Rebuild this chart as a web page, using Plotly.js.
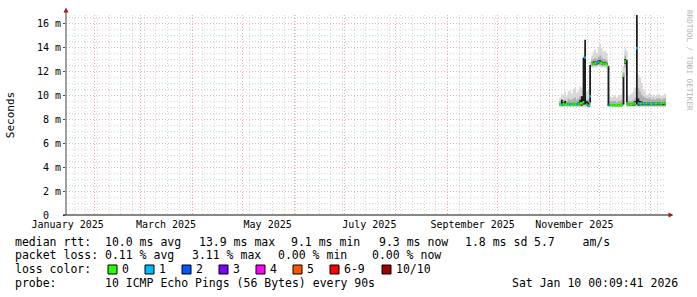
<!DOCTYPE html>
<html><head><meta charset="utf-8">
<script src="https://cdn.plot.ly/plotly-3.0.1.min.js"></script>
<style>html,body{margin:0;padding:0;background:#fff;}#chart{width:697px;height:297px;}</style>
</head><body><div id="chart"></div>
<script>
// ---- data (milliseconds) ----
const days = ['2025-11-07','2025-11-08','2025-11-09','2025-11-10','2025-11-11','2025-11-12','2025-11-13','2025-11-14','2025-11-15','2025-11-16',
'2025-11-17','2025-11-18','2025-11-19','2025-11-20','2025-11-21','2025-11-22','2025-11-23','2025-11-24','2025-11-25','2025-11-26',
'2025-11-27','2025-11-28','2025-11-29','2025-11-30','2025-12-01','2025-12-02','2025-12-03','2025-12-04','2025-12-05','2025-12-06',
'2025-12-07','2025-12-08','2025-12-09','2025-12-10','2025-12-11','2025-12-12','2025-12-13','2025-12-14','2025-12-15','2025-12-16',
'2025-12-17','2025-12-18','2025-12-19','2025-12-20','2025-12-21','2025-12-22','2025-12-23','2025-12-24','2025-12-25','2025-12-26',
'2025-12-27','2025-12-28','2025-12-29','2025-12-30','2025-12-31','2026-01-01','2026-01-02','2026-01-03','2026-01-04','2026-01-05',
'2026-01-06','2026-01-07','2026-01-08','2026-01-09','2026-01-10 00:09:41'];
const median = [9.2,9.2,9.25,9.2,9.2,9.25,9.2,9.2,9.25,9.2,
9.2,9.25,9.3,9.3,9.4,13.1,9.2,9.1,9.9,12.6,
12.6,12.65,12.7,12.75,12.7,12.65,12.6,12.6,12.55,9.2,
9.15,9.15,9.15,9.15,9.15,9.15,9.15,9.2,11.6,12.8,
9.3,9.2,9.2,9.2,9.25,9.3,13.9,9.3,9.3,9.3,
9.3,9.3,9.3,9.3,9.3,9.25,9.3,9.3,9.3,9.3,
9.3,9.3,9.35,9.3,9.3];
const smokeLo = [9.0,9.0,9.0,9.0,9.0,9.0,9.0,9.0,9.0,9.0,
9.0,9.0,9.0,9.0,9.0,9.0,9.0,8.9,9.0,12.3,
12.3,12.3,12.3,12.4,12.3,12.3,12.3,12.3,12.2,9.0,
9.0,9.0,9.0,9.0,9.0,9.0,9.0,9.0,9.0,11.6,
9.0,9.0,9.0,9.0,9.0,9.0,9.0,9.0,9.0,9.0,
9.0,9.0,9.0,9.0,9.0,9.0,9.0,9.0,9.0,9.0,
9.0,9.0,9.0,9.0,9.0];
const smokeHi = [9.8,10.1,10.0,10.3,9.9,10.3,10.4,10.1,10.5,10.6,
10.2,10.4,10.7,10.6,13.3,14.6,10.3,10.4,12.8,13.3,
13.6,13.8,13.5,14.0,14.3,13.9,13.6,13.7,13.5,12.5,
9.9,9.8,9.9,10.0,9.8,9.9,10.0,10.1,12.4,13.9,
13.7,10.0,9.9,10.1,10.3,10.6,16.7,11.7,11.5,11.0,
10.5,10.3,10.0,10.1,10.2,9.9,10.0,9.9,10.0,10.1,
10.0,9.9,10.0,10.1,10.1];
const coreLo = [9.1,9.1,9.1,9.1,9.1,9.1,9.1,9.1,9.1,9.1,
9.1,9.1,9.1,9.1,9.1,9.2,9.1,9.0,9.2,12.4,
12.4,12.45,12.45,12.5,12.5,12.45,12.45,12.4,12.4,9.1,
9.05,9.05,9.05,9.05,9.05,9.05,9.05,9.05,9.2,12.3,
9.2,9.1,9.1,9.1,9.1,9.1,9.2,9.1,9.1,9.1,
9.1,9.1,9.1,9.1,9.1,9.1,9.1,9.1,9.1,9.1,
9.1,9.1,9.1,9.1,9.1];
const coreHi = [9.5,9.6,9.6,9.6,9.5,9.7,9.6,9.6,9.7,9.8,
9.6,9.7,9.9,9.9,10.4,13.9,9.6,9.6,12.5,12.9,
13.0,13.1,13.0,13.2,13.3,13.1,13.0,13.0,12.9,12.3,
9.5,9.45,9.5,9.5,9.4,9.5,9.5,9.6,11.9,13.3,
13.0,9.5,9.5,9.5,9.6,9.8,16.2,10.6,10.3,10.0,
9.9,9.8,9.7,9.7,9.8,9.6,9.7,9.6,9.7,9.7,
9.7,9.6,9.7,9.7,9.7];
const denseLo = [9.15,9.1,9.15,9.15,9.15,9.15,9.15,9.15,9.15,9.15,
9.15,9.15,9.15,9.1,9.2,9.2,9.1,9.0,9.4,12.5,
12.5,12.55,12.55,12.6,12.6,12.55,12.5,12.5,12.5,9.1,
9.1,9.1,9.1,9.1,9.1,9.1,9.1,9.1,9.2,12.6,
9.2,9.1,9.1,9.1,9.1,9.15,9.2,9.1,9.15,9.15,
9.15,9.15,9.15,9.15,9.15,9.15,9.15,9.15,9.15,9.15,
9.15,9.15,9.15,9.15,9.15];
const denseHi = [9.3,9.6,9.4,9.5,9.3,9.35,9.3,9.3,9.35,9.3,
9.3,9.4,9.6,9.9,13.1,14.6,9.5,9.4,12.5,12.7,
12.8,12.8,12.8,12.9,12.9,12.8,12.75,12.75,12.7,12.4,
9.25,9.25,9.25,9.25,9.25,9.25,9.25,9.3,11.6,13.0,
12.9,9.3,9.3,9.3,9.35,9.5,16.7,9.7,9.5,9.45,
9.4,9.4,9.4,9.4,9.4,9.35,9.4,9.4,9.4,9.4,
9.4,9.4,9.4,9.4,9.4];
const lossClass = [0,1,0,0,0,0,1,0,0,0,
1,0,0,0,0,1,0,1,1,0,
0,0,1,1,0,0,0,0,0,2,
0,0,0,0,0,0,0,0,0,0,
0,0,0,0,0,0,1,1,0,1,
0,1,0,1,0,0,1,0,0,1,
0,0,0,0,0];

const monthStarts = ['2025-02-01','2025-03-01','2025-04-01','2025-05-01','2025-06-01','2025-07-01',
'2025-08-01','2025-09-01','2025-10-01','2025-11-01','2025-12-01','2026-01-01'];
const labelDates = ['2025-01-16','2025-03-16','2025-05-16','2025-07-16','2025-09-16','2025-11-16'];
const labelText = ['January 2025','March 2025','May 2025','July 2025','September 2025','November 2025'];
const yTickVals = [0,2,4,6,8,10,12,14,16];
const yTickText = ['0\u00a0\u00a0','2 m','4 m','6 m','8 m','10 m','12 m','14 m','16 m'];
const lossLabels = ['0','1','2','3','4','5','6-9','10/10'];
const lossColors = ['#26ff00','#00b8ff','#0059ff','#7e00ff','#ff00ff','#ff5500','#ff0000','#a10000'];
const rttParts = ['median rtt:  10.0 ms avg','13.9 ms max','9.1 ms min','9.3 ms now','1.8 ms sd','5.7    am/s'];
const lossParts = ['packet loss: 0.11 % avg','3.11 % max','0.00 % min','0.00 % now'];
const probeText = 'probe:       10 ICMP Echo Pings (56 Bytes) every 90s';
const stampText = 'Sat Jan 10 00:09:41 2026';
const creditText = 'RRDTOOL / TOBI OETIKER';

// ---- layout helpers (pixel -> paper) ----
const L = 66, T = 15, PW = 600, PH = 200;
const px = x => (x - L) / PW;
const py = y => (T + PH - y) / PH;
const MONO = 'DejaVu Sans Mono';

const traces = [];
function band(lo, hi, color) {
  traces.push({x: days, y: lo, type: 'scatter', mode: 'lines', line: {width: 0, shape: 'hv'}, hoverinfo: 'skip', showlegend: false});
  traces.push({x: days, y: hi, type: 'scatter', mode: 'lines', line: {width: 0, shape: 'hv'}, fill: 'tonexty', fillcolor: color, hoverinfo: 'skip', showlegend: false});
}
band(smokeLo, smokeHi, '#d8d8d8');
band(coreLo, coreHi, '#b0b0b0');
band(denseLo, denseHi, '#1c1c1c');
// median drawn as one horizontal step per sample, coloured by loss class
for (let c = 0; c < lossColors.length; c++) {
  const xs = [], ys = [];
  for (let i = 0; i < days.length - 1; i++) {
    if (lossClass[i] === c) { xs.push(days[i], days[i + 1], null); ys.push(median[i], median[i], null); }
  }
  if (xs.length) {
    traces.push({x: xs, y: ys, type: 'scatter', mode: 'lines', connectgaps: false, line: {color: lossColors[c], width: 2.5}, hoverinfo: 'skip', showlegend: false});
  }
}
// label axis carrier
traces.push({x: labelDates, y: labelDates.map(() => 0), xaxis: 'x2', type: 'scatter', mode: 'markers', marker: {opacity: 0}, hoverinfo: 'skip', showlegend: false});

const xr = ['2025-01-15 00:09:41', '2026-01-10 00:09:41'];
const gridDash = '1px,2px';
const shapes = [
  {type: 'line', xref: 'paper', yref: 'paper', x0: px(66), x1: px(66), y0: py(215), y1: py(12), line: {color: '#444', width: 1}, layer: 'above'},
  {type: 'line', xref: 'paper', yref: 'paper', x0: px(63), x1: px(669), y0: py(215), y1: py(215), line: {color: '#111', width: 1}, layer: 'above'},
  {type: 'path', xref: 'paper', yref: 'paper', path: `M ${px(63.5)} ${py(12.5)} L ${px(68.5)} ${py(12.5)} L ${px(66)} ${py(7.5)} Z`, fillcolor: '#a01818', line: {width: 0}, layer: 'above'},
  {type: 'path', xref: 'paper', yref: 'paper', path: `M ${px(668.5)} ${py(212.5)} L ${px(668.5)} ${py(217.5)} L ${px(673.5)} ${py(215)} Z`, fillcolor: '#a01818', line: {width: 0}, layer: 'above'}
];
const annotations = [];
function txt(s, x, y, extra) {
  annotations.push(Object.assign({text: s, xref: 'paper', yref: 'paper', x: px(x), y: py(y), xanchor: 'left', yanchor: 'middle', showarrow: false, borderpad: 0, borderwidth: 0, font: {family: MONO, size: 11.5, color: '#000'}}, extra || {}));
}
const rttX = [15, 199, 291, 379, 465, 534];
rttParts.forEach((s, i) => txt(s, rttX[i], 241.5));
const lossX = [15, 192, 278, 372];
lossParts.forEach((s, i) => txt(s, lossX[i], 255.3));
txt('loss color:', 15, 269);
lossLabels.forEach((s, i) => {
  const x0 = 108 + 37 * i + (i === 7 ? 15 : 0);
  shapes.push({type: 'rect', xref: 'paper', yref: 'paper', x0: px(x0), x1: px(x0 + 9), y0: py(274), y1: py(265), fillcolor: lossColors[i], line: {color: '#000', width: 1}});
  txt(s, x0 + 14, 269);
});
txt(probeText, 15, 282.8);
txt(stampText, 512, 282.8);
annotations.push({text: creditText, xref: 'paper', yref: 'paper', x: px(689), y: py(60), xanchor: 'center', yanchor: 'middle', textangle: 90, showarrow: false, borderpad: 0, borderwidth: 0, font: {family: MONO, size: 7.6, color: '#b4b4b4'}});

const layout = {
  width: 697, height: 297,
  margin: {l: L, r: 697 - L - PW, t: T, b: 297 - T - PH, pad: 0},
  paper_bgcolor: '#fff', plot_bgcolor: '#fff',
  showlegend: false,
  xaxis: {type: 'date', range: xr, tickvals: monthStarts, showticklabels: false, ticks: '', showgrid: true, gridcolor: '#eab0b0', griddash: gridDash, gridwidth: 1, zeroline: false, showline: false,
    minor: {tick0: '2025-01-20', dtick: 7 * 86400000, showgrid: true, gridcolor: '#d6d6d6', griddash: gridDash, gridwidth: 1, ticks: ''}, fixedrange: true},
  xaxis2: {type: 'date', range: xr, overlaying: 'x', anchor: 'y', side: 'bottom', tickvals: labelDates, ticktext: labelText, ticks: '', showgrid: false, zeroline: false, showline: false,
    ticklabelstandoff: 2, tickfont: {family: MONO, size: 10, color: '#000'}},
  yaxis: {range: [0, 16.67], tickvals: yTickVals, ticktext: yTickText, ticks: 'outside', ticklen: 2, tickcolor: '#444', showgrid: true, gridcolor: '#eab0b0', griddash: gridDash, zeroline: false, showline: false,
    minor: {dtick: 0.5, showgrid: true, gridcolor: '#d6d6d6', griddash: gridDash, ticks: ''},
    tickfont: {family: MONO, size: 10, color: '#000'}, automargin: false,
    title: {text: 'Seconds', font: {family: MONO, size: 11, color: '#000'}, standoff: 20}},
  shapes: shapes,
  annotations: annotations
};
Plotly.newPlot('chart', traces, layout, {staticPlot: true, displayModeBar: false});
</script></body></html>
